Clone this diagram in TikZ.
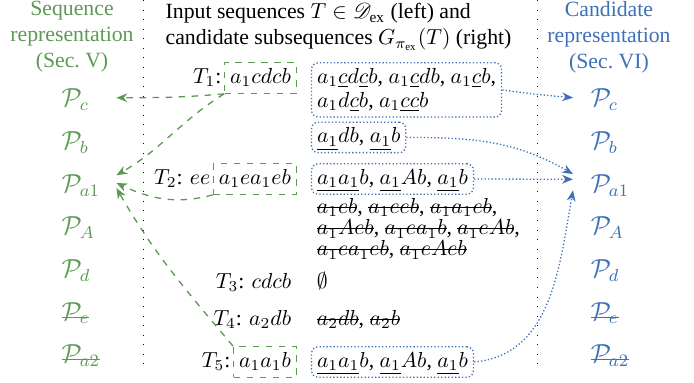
\documentclass[tikz,border=0pt]{standalone}
\usepackage{fontspec}
\setmainfont{Liberation Serif}
\usepackage{mathrsfs}
\usetikzlibrary{positioning, arrows.meta}

\definecolor{seqgreen}{RGB}{92,154,84}
\definecolor{candblue}{RGB}{62,112,184}

% gray underline, black letters
\newcommand{\ulg}[1]{{\color{gray}\underline{\color{black}#1}}}
% struck-out text
\newsavebox{\strkbox}
\newcommand{\strk}[2][0.55ex]{\sbox{\strkbox}{#2}\rlap{\rule[#1]{\wd\strkbox}{0.45pt}}\usebox{\strkbox}}

\begin{document}
\begin{tikzpicture}[
	x=0.46pt, y=0.46pt,
	node distance=8.7pt,
	seqp/.style={anchor=base west, font=\large, text height=8.5pt, text depth=0pt, inner ysep=1pt, inner xsep=1pt, text width=24pt, align=left, text=seqgreen},
	candp/.style={anchor=base west, font=\large, text height=8.5pt, text depth=0pt, inner ysep=1pt, inner xsep=8pt, text width=22pt, align=left, text=candblue},
	head/.style={align=center},
	row/.style={inner sep=2.5pt, text height=7pt, text depth=2pt},
	seqbox/.style={row, draw=seqgreen, dashed, semithick},
	candbox/.style={draw=candblue, densely dotted, semithick, rounded corners=3pt, inner sep=2.5pt, align=left},
	seqarr/.style={->, seqgreen, dashed, semithick},
	candarr/.style={->, candblue, densely dotted, semithick},
	>={Stealth[length=5pt, width=4pt]},
]
	\useasboundingbox (0,0) rectangle (694,383);

	% Headers
	\node[head, text=seqgreen] (seqhead) at (72,346) {Sequence\\representation\\(Sec.~V)};
	\node[align=left, anchor=west] (inhead) at (158,356) {Input sequences $T\in\mathscr{D}_{\mathrm{ex}}$ (left) and\\candidate subsequences $G_{\pi_{\mathrm{ex}}}(T)$ (right)};
	\node[head, text=candblue] (candhead) at (609,346) {Candidate\\representation\\(Sec.~VI)};

	% Column separators
	\draw[loosely dotted] (143,383) -- (143,13);
	\draw[loosely dotted] (537,383) -- (537,13);

	% Sequence representation
	\node[seqp] (pc) at (59,276) {$\mathcal{P}_c$};
	\node[seqp, below=of pc] (pb) {$\mathcal{P}_b$};
	\node[seqp, below=of pb] (pa1) {$\mathcal{P}_{a1}$};
	\node[seqp, below=of pa1] (pA) {$\mathcal{P}_A$};
	\node[seqp, below=of pA] (pd) {$\mathcal{P}_d$};
	\node[seqp, below=of pd] (pe) {\strk[0.2ex]{$\mathcal{P}_e$}};
	\node[seqp, below=of pe] (pa2) {\strk[0.2ex]{$\mathcal{P}_{a2}$}};

	% Candidate representation
	\node[candp] (qc) at (573,276) {$\mathcal{P}_c$};
	\node[candp, below=of qc] (qb) {$\mathcal{P}_b$};
	\node[candp, below=of qb] (qa1) {$\mathcal{P}_{a1}$};
	\node[candp, below=of qa1] (qA) {$\mathcal{P}_A$};
	\node[candp, below=of qA] (qd) {$\mathcal{P}_d$};
	\node[candp, below=of qd] (qe) {\strk[0.2ex]{$\mathcal{P}_e$}};
	\node[candp, below=of qe] (qa2) {\strk[0.2ex]{$\mathcal{P}_{a2}$}};

	% T1
	\node[seqbox, anchor=east] (s1) at (297,305) {$a_1cdcb$};
	\node[row, left=0pt of s1, inner xsep=1pt] (t1) {$T_1$:};
	\node[candbox, right=6.4pt of s1.north east, anchor=north west] (c1) {$a_1\ulg{c}d\ulg{c}b$, $a_1\ulg{c}db$, $a_1\ulg{c}b$,\\[-1pt]$a_1d\ulg{c}b$, $a_1\ulg{cc}b$};
	\node[candbox, row, below=1.8pt of c1.south west, anchor=north west] (c1b) {$\ulg{a_1}db$, $\ulg{a_1}b$};

	% T2
	\node[seqbox, anchor=east] (s2) at (297,204) {$a_1ea_1eb$};
	\node[row, left=0pt of s2, inner xsep=1pt] (t2) {$T_2$: $ee$};
	\node[candbox, row, right=6.4pt of s2] (c2) {$\ulg{a_1a_1}b$, $\ulg{a_1}Ab$, $\ulg{a_1}b$};
	\node[align=left, inner sep=2.5pt, below=-1pt of c2.south west, anchor=north west] (x2) {\strk{$a_1eb$}, \strk{$a_1eeb$}, \strk{$a_1a_1eb$},\\[-2.3pt]\strk{$a_1Aeb$}, \strk{$a_1ea_1b$}, \strk{$a_1eAb$},\\[-2.3pt]\strk{$a_1ea_1eb$}, \strk{$a_1eAeb$}};

	% T3
	\node[row, anchor=east] (t3) at (297,100) {$T_3$: $cdcb$};
	\node[row, right=6.4pt of t3] (c3) {$\emptyset$};

	% T4
	\node[row, anchor=east] (t4) at (297,63) {$T_4$: $a_2db$};
	\node[row, right=6.4pt of t4] (c4) {\strk{$a_2db$}, \strk{$a_2b$}};

	% T5
	\node[seqbox, anchor=east] (s5) at (297,21) {$a_1a_1b$};
	\node[row, left=0pt of s5, inner xsep=1pt] (t5) {$T_5$:};
	\node[candbox, row, right=6.4pt of s5] (c5) {$\ulg{a_1a_1}b$, $\ulg{a_1}Ab$, $\ulg{a_1}b$};

	% Input sequences -> sequence representation
	\draw[seqarr] (s1.south west) to[out=185, in=0] (pc.east);
	\draw[seqarr] (s1.south west) to[out=212, in=30] (pa1.15);
	\draw[seqarr] (s2.south west) to[out=195, in=-25] (pa1.east);
	\draw[seqarr] (s5.north west) to[out=130, in=-60] (pa1.-10);

	% Candidates -> candidate representation
	\draw[candarr] (c1.east) to[out=-8, in=175] (qc.west);
	\draw[candarr] (c1b.east) to[out=0, in=150] (qa1.168);
	\draw[candarr] (c2.east) -- (qa1.175);
	\draw[candarr] (c5.east) to[out=5, in=-100] (qa1.190);
\end{tikzpicture}
\end{document}
